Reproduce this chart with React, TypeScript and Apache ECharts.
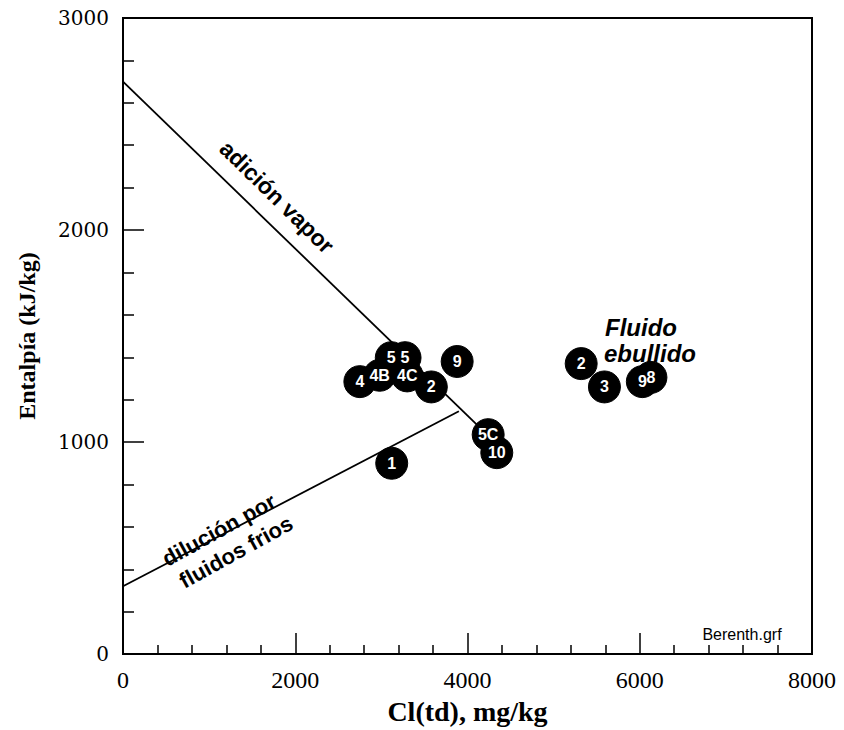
import React, { useEffect, useRef } from "react";
import * as echarts from "echarts";

// Sample points: label, chloride Cl(td) mg/kg, enthalpy kJ/kg
const pointLabels = ["4", "4B", "5", "5", "4C", "2", "9", "5C", "10", "1", "2", "3", "9", "8"];
const chlorideValues = [2750, 2980, 3115, 3275, 3300, 3580, 3880, 4240, 4340, 3120, 5320, 5590, 6030, 6130];
const enthalpyValues = [1285, 1315, 1398, 1398, 1312, 1260, 1380, 1035, 950, 900, 1370, 1260, 1285, 1305];

// Mixing lines
const vaporLineCl = [0, 4240];
const vaporLineH = [2700, 1030];
const dilutionLineCl = [0, 3900];
const dilutionLineH = [320, 1145];

const xMin = 0;
const xMax = 8000;
const xInterval = 2000;
const yMin = 0;
const yMax = 3000;
const yInterval = 1000;

export default function App() {
  const ref = useRef<HTMLDivElement>(null);

  useEffect(() => {
    if (!ref.current) return;
    const chart = echarts.init(ref.current, null, { renderer: "svg" });
    const scatterData = pointLabels.map((name, i) => ({
      name,
      value: [chlorideValues[i], enthalpyValues[i]],
    }));
    const vaporData = vaporLineCl.map((x, i) => [x, vaporLineH[i]]);
    const dilutionData = dilutionLineCl.map((x, i) => [x, dilutionLineH[i]]);

    const option: any = {
      animation: false,
      backgroundColor: "#fff",
      grid: {
        left: 123,
        right: 32,
        top: 18,
        bottom: 70,
        show: true,
        borderColor: "#000",
        borderWidth: 2,
        backgroundColor: "transparent",
      },
      xAxis: {
        type: "value",
        min: xMin,
        max: xMax,
        interval: xInterval,
        name: "Cl(td), mg/kg",
        nameLocation: "middle",
        nameGap: 28,
        nameTextStyle: {
          fontFamily: "Liberation Serif",
          fontWeight: "bold",
          fontSize: 28,
          color: "#000",
          verticalAlign: "top",
        },
        axisLine: { show: true, lineStyle: { color: "#000", width: 2 } },
        axisTick: { show: true, inside: true, length: 21, lineStyle: { color: "#000", width: 1.5 } },
        minorTick: { show: true, splitNumber: 5, length: 9, lineStyle: { color: "#000", width: 1.5 } },
        axisLabel: {
          margin: 14,
          fontFamily: "Liberation Serif",
          fontSize: 24,
          color: "#000",
          formatter: (v: number) => String(v),
        },
        splitLine: { show: false },
      },
      yAxis: {
        type: "value",
        min: yMin,
        max: yMax,
        interval: yInterval,
        name: "Entalpía (kJ/kg)",
        nameLocation: "middle",
        nameGap: 84,
        nameTextStyle: {
          fontFamily: "Liberation Serif",
          fontWeight: "bold",
          fontSize: 24,
          color: "#000",
        },
        axisLine: { show: true, lineStyle: { color: "#000", width: 2 } },
        axisTick: { show: true, inside: true, length: 21, lineStyle: { color: "#000", width: 1.5 } },
        minorTick: { show: true, splitNumber: 5, length: 11, lineStyle: { color: "#000", width: 1.5 } },
        axisLabel: {
          margin: 14,
          fontFamily: "DejaVu Serif",
          fontSize: 20,
          color: "#000",
          formatter: (v: number) => String(v),
        },
        splitLine: { show: false },
      },
      series: [
        {
          type: "line",
          data: vaporData,
          showSymbol: false,
          symbol: "none",
          lineStyle: { color: "#000", width: 1.8 },
          z: 2,
        },
        {
          type: "line",
          data: dilutionData,
          showSymbol: false,
          symbol: "none",
          lineStyle: { color: "#000", width: 1.8 },
          z: 2,
        },
        {
          type: "scatter",
          data: scatterData,
          symbol: "circle",
          symbolSize: 32,
          itemStyle: { color: "#000", opacity: 1, borderColor: "#000", borderWidth: 1 },
          label: {
            show: true,
            position: "inside",
            formatter: "{b}",
            color: "#fff",
            fontFamily: "Liberation Sans",
            fontWeight: "bold",
            fontSize: 16,
            lineHeight: 16,
          },
          z: 3,
        },
      ],
      graphic: [
        {
          type: "text",
          x: 277,
          y: 197,
          rotation: -0.775,
          style: {
            text: "adición vapor",
            align: "center",
            verticalAlign: "middle",
            font: 'bold 23px "Liberation Sans"',
            fill: "#000",
          },
        },
        {
          type: "text",
          x: 219,
          y: 530,
          rotation: 0.506,
          style: {
            text: "dilución por",
            align: "center",
            verticalAlign: "middle",
            font: 'bold 22px "Liberation Sans"',
            fill: "#000",
          },
        },
        {
          type: "text",
          x: 236,
          y: 552,
          rotation: 0.506,
          style: {
            text: "fluidos frios",
            align: "center",
            verticalAlign: "middle",
            font: 'bold 22px "Liberation Sans"',
            fill: "#000",
          },
        },
        {
          type: "text",
          x: 641,
          y: 327,
          style: {
            text: "Fluido",
            align: "center",
            verticalAlign: "middle",
            font: 'italic bold 24px "Liberation Sans"',
            fill: "#000",
          },
        },
        {
          type: "text",
          x: 650,
          y: 353,
          style: {
            text: "ebullido",
            align: "center",
            verticalAlign: "middle",
            font: 'italic bold 24px "Liberation Sans"',
            fill: "#000",
          },
        },
        {
          type: "text",
          x: 742,
          y: 634,
          style: {
            text: "Berenth.grf",
            align: "center",
            verticalAlign: "middle",
            font: '16px "Liberation Sans"',
            fill: "#000",
          },
        },
      ],
    };
    chart.setOption(option);
    return () => chart.dispose();
  }, []);

  return (
    <div
      ref={ref}
      style={{ position: "fixed", left: 0, top: 0, width: 844, height: 730, background: "#fff" }}
    />
  );
}
